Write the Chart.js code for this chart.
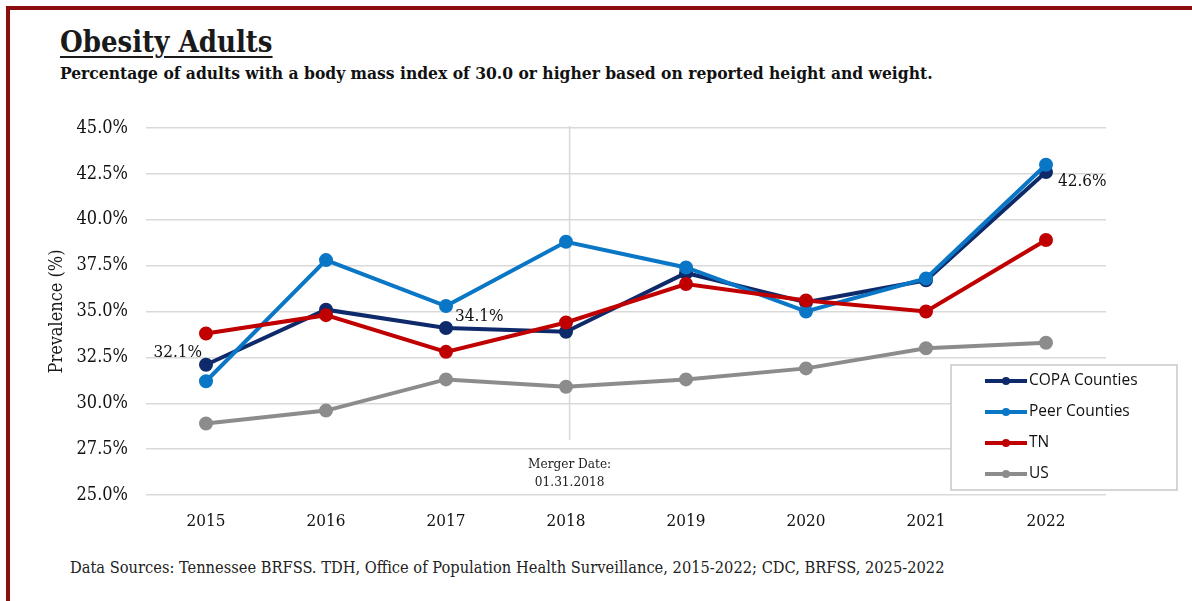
<!DOCTYPE html>
<html>
<head>
<meta charset="utf-8">
<script src="https://cdn.jsdelivr.net/npm/chart.js@4.4.0/dist/chart.umd.min.js"></script>
<style>
  html, body { margin: 0; padding: 0; background: #fff; }
  body { width: 1192px; height: 601px; position: relative; overflow: hidden; }
  .marco {
    position: absolute; left: 6px; top: 6px; width: 1200px; height: 620px;
    border-left: 4px solid #8b0e0e; border-top: 4px solid #8b0e0e;
  }
  .titulo {
    position: absolute; left: 60px; top: 25px; margin: 0;
    font-family: "DejaVu Serif Condensed", "DejaVu Serif", serif;
    font-weight: bold; font-size: 29px; color: #1a1a1a; text-decoration: underline;
    text-underline-offset: 4px; text-decoration-thickness: 2px;
  }
  .subtitulo {
    position: absolute; left: 60px; top: 63px; margin: 0;
    font-family: "DejaVu Serif Condensed", "DejaVu Serif", serif;
    font-weight: bold; font-size: 17.3px; color: #111;
  }
  .fuente {
    position: absolute; left: 70px; top: 558px; margin: 0;
    font-family: "DejaVu Serif Condensed", "DejaVu Serif", serif;
    font-size: 16.3px; color: #222;
  }
  #grafico { position: absolute; left: 0; top: 0; }
</style>
</head>
<body>
<div class="marco"></div>
<h1 class="titulo">Obesity Adults</h1>
<p class="subtitulo">Percentage of adults with a body mass index of 30.0 or higher based on reported height and weight.</p>
<p class="fuente">Data Sources: Tennessee BRFSS. TDH, Office of Population Health Surveillance, 2015-2022; CDC, BRFSS, 2025-2022</p>
<canvas id="grafico" width="1192" height="601"></canvas>
<script>
const anios = ["2015", "2016", "2017", "2018", "2019", "2020", "2021", "2022"];
const copa = [32.1, 35.1, 34.1, 33.9, 37.1, 35.5, 36.7, 42.6];
const pares = [31.2, 37.8, 35.3, 38.8, 37.4, 35.0, 36.8, 43.0];
const tn = [33.8, 34.8, 32.8, 34.4, 36.5, 35.6, 35.0, 38.9];
const usa = [28.9, 29.6, 31.3, 30.9, 31.3, 31.9, 33.0, 33.3];
const ticksY = [25, 27.5, 30, 32.5, 35, 37.5, 40, 42.5, 45];

// etiquetas de valor: [indice de serie, indice de año, posicion]
const etiquetas = [[0, 0, "izq"], [0, 2, "arriba"], [0, 7, "abajo"]];
const fechaFusion = 3.03; // 31 de enero de 2018, sobre el eje de años
const textoFusion = ["Merger Date:", "01.31.2018"];

const serif = "'DejaVu Serif Condensed', 'DejaVu Serif', serif";
const sans = "'Open Sans', 'Liberation Sans', sans-serif";

function serie(nombre, datos, color, orden) {
  return {
    label: nombre, data: datos, borderColor: color, backgroundColor: color,
    pointBackgroundColor: color, pointBorderColor: color,
    borderWidth: 4, pointRadius: 5, pointHoverRadius: 5, tension: 0, order: orden
  };
}

const lineaFusion = {
  id: "lineaFusion",
  beforeDatasetsDraw(chart) {
    const c = chart.ctx, x = chart.scales.x.getPixelForValue(fechaFusion);
    c.save();
    c.strokeStyle = "#d9d9d9";
    c.lineWidth = 1.5;
    c.beginPath();
    c.moveTo(x, chart.chartArea.top - 2);
    c.lineTo(x, 440);
    c.stroke();
    c.fillStyle = "#222";
    c.font = "13.5px " + serif;
    c.textAlign = "center";
    c.textBaseline = "middle";
    c.fillText(textoFusion[0], x, 464);
    c.fillText(textoFusion[1], x, 482);
    c.restore();
  }
};

const etiquetasValor = {
  id: "etiquetasValor",
  afterDatasetsDraw(chart) {
    const c = chart.ctx;
    c.save();
    c.fillStyle = "#111";
    c.font = "17px " + serif;
    c.textBaseline = "middle";
    etiquetas.forEach(([s, i, pos]) => {
      const p = chart.getDatasetMeta(s).data[i];
      const texto = chart.data.datasets[s].data[i].toFixed(1) + "%";
      if (pos === "izq") { c.textAlign = "right"; c.fillText(texto, p.x - 4, p.y - 12); }
      if (pos === "arriba") { c.textAlign = "left"; c.fillText(texto, p.x + 9, p.y - 11); }
      if (pos === "abajo") { c.textAlign = "left"; c.fillText(texto, p.x + 12, p.y + 10); }
    });
    c.restore();
  }
};

// leyenda dibujada dentro del area, en recuadro
const leyendaCaja = {
  id: "leyendaCaja",
  afterDraw(chart) {
    const c = chart.ctx;
    const x0 = 951, y0 = 365, w = 226, h = 125;
    c.save();
    c.fillStyle = "#fff";
    c.fillRect(x0, y0, w, h);
    c.strokeStyle = "#c8c8c8";
    c.lineWidth = 1.5;
    c.strokeRect(x0, y0, w, h);
    c.font = "15.5px " + sans;
    c.textBaseline = "middle";
    c.textAlign = "left";
    chart.data.datasets.forEach((ds, k) => {
      const y = y0 + 16 + k * 31;
      c.strokeStyle = ds.borderColor;
      c.lineWidth = 4;
      c.beginPath();
      c.moveTo(985, y);
      c.lineTo(1027, y);
      c.stroke();
      c.fillStyle = ds.borderColor;
      c.beginPath();
      c.arc(1006, y, 4, 0, Math.PI * 2);
      c.fill();
      c.fillStyle = "#111";
      c.fillText(ds.label, 1029, y);
    });
    c.restore();
  }
};

new Chart(document.getElementById("grafico"), {
  type: "line",
  data: {
    labels: anios,
    datasets: [
      serie("COPA Counties", copa, "#0e2a6b", 4),
      serie("Peer Counties", pares, "#0a76c6", 3),
      serie("TN", tn, "#c00000", 2),
      serie("US", usa, "#8c8c8c", 1)
    ]
  },
  options: {
    responsive: false,
    animation: false,
    layout: { padding: { left: 0, top: 128, right: 86, bottom: 66 } },
    plugins: { legend: { display: false }, tooltip: { enabled: false } },
    scales: {
      x: {
        offset: true,
        grid: { display: false, drawTicks: false },
        border: { display: false },
        ticks: { color: "#111", font: { family: serif, size: 17 }, padding: 16, maxRotation: 0 },
        afterFit(s) { s.height = 40; }
      },
      y: {
        min: 25, max: 45,
        afterBuildTicks(s) { s.ticks = ticksY.map(v => ({ value: v })); },
        afterFit(s) { s.width = 146; },
        grid: { color: "#d9d9d9", lineWidth: 1.5, drawTicks: false },
        border: { display: false },
        ticks: {
          color: "#111", font: { family: serif, size: 18 }, padding: 18,
          callback: v => v.toFixed(1) + "%"
        },
        title: {
          display: true, text: "Prevalence (%)", color: "#1a1a1a",
          font: { family: serif, size: 18 }, padding: { top: 47, bottom: 0 }
        }
      }
    }
  },
  plugins: [lineaFusion, etiquetasValor, leyendaCaja]
});
</script>
</body>
</html>
